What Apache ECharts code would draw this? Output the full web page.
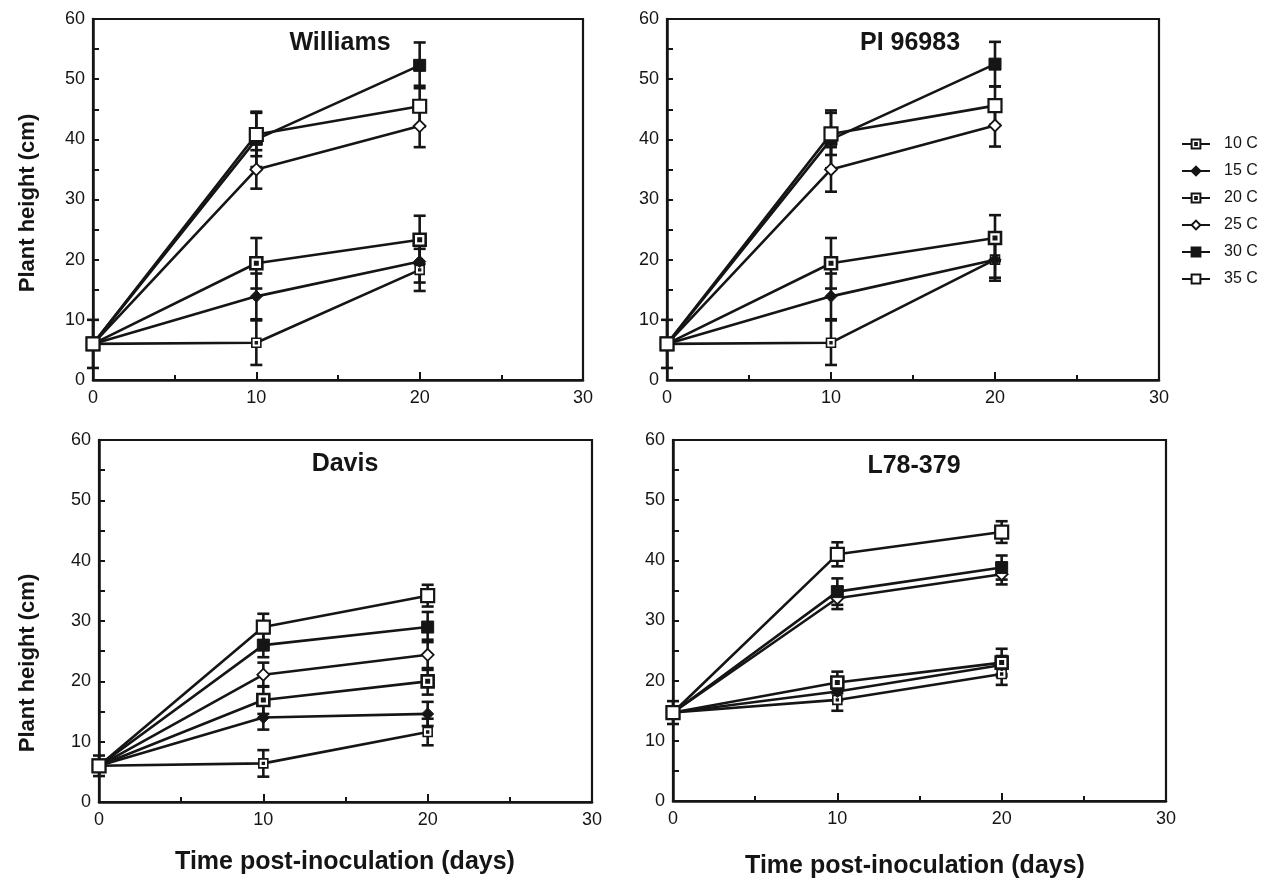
<!DOCTYPE html>
<html>
<head>
<meta charset="utf-8">
<script src="https://cdn.jsdelivr.net/npm/echarts@6/dist/echarts.min.js"></script>
<style>
  html, body { margin: 0; padding: 0; background: #fff; }
  #chart { width: 1269px; height: 880px; }
</style>
</head>
<body>
<div id="chart"></div>
<script>
  // days after inoculation
  const days = [0, 10, 20]
  const temps = ['10 C', '15 C', '20 C', '25 C', '30 C', '35 C']
  const xTicks = [0, 10, 20, 30]
  const yTicks = [0, 10, 20, 30, 40, 50, 60]

  // mean plant height (cm), one row per temperature
  const williamsMean = [[6, 6.2, 18.3], [6, 13.9, 19.7], [6, 19.4, 23.3], [6, 35, 42.2], [6, 40, 52.3], [6, 40.8, 45.5]]
  const williamsErr = [[4, 3.7, 3.5], [0, 3.8, 3.5], [0, 4.2, 4], [0, 3.2, 3.5], [0, 4.6, 3.8], [0, 3.6, 3.4]]
  const piMean = [[6, 6.2, 20], [6, 13.9, 20], [6, 19.4, 23.6], [6, 35, 42.3], [6, 40, 52.5], [6, 40.9, 45.6]]
  const piErr = [[4, 3.7, 3.5], [0, 3.8, 3], [0, 4.2, 3.8], [0, 3.7, 3.5], [0, 4.8, 3.7], [0, 3.5, 3.2]]
  const davisMean = [[6, 6.4, 11.6], [6, 14, 14.6], [6, 16.9, 20], [6, 21.1, 24.4], [6, 26, 29], [6, 29, 34.2]]
  const davisErr = [[1.7, 2.2, 2.2], [0, 2, 2], [0, 2.3, 2.2], [0, 2, 2.5], [0, 2, 2.5], [0, 2.2, 1.8]]
  const l78Mean = [[14.7, 16.8, 21.1], [14.7, 18.2, 22.6], [14.7, 19.7, 23], [14.7, 33.7, 37.7], [14.7, 34.8, 38.8], [14.7, 41, 44.7]]
  const l78Err = [[1.9, 1.8, 1.8], [0, 1.5, 1.5], [0, 1.8, 2.3], [0, 1.8, 1.7], [0, 2.2, 2], [0, 2, 1.8]]

  const panels = [
    { name: 'Williams', mean: williamsMean, err: williamsErr, grid: { left: 93, top: 19, width: 490, height: 361 }, tx: 340, ty: 43 },
    { name: 'PI 96983', mean: piMean, err: piErr, grid: { left: 667, top: 19, width: 492, height: 361 }, tx: 910, ty: 43 },
    { name: 'Davis', mean: davisMean, err: davisErr, grid: { left: 99, top: 440, width: 493, height: 362 }, tx: 345, ty: 464 },
    { name: 'L78-379', mean: l78Mean, err: l78Err, grid: { left: 673, top: 440, width: 493, height: 361 }, tx: 914, ty: 466 }
  ]

  const ink = '#151515'
  const font = '"Liberation Sans", Arial, Helvetica, sans-serif'
  const dotSquare = 'path://M0,0H10V10H0Z M4,4H6V6H4Z'

  const markers = [
    { symbol: dotSquare, size: 9, fill: '#fff', bw: 1.6 },
    { symbol: 'diamond', size: 12, fill: ink, bw: 1 },
    { symbol: dotSquare, size: 12, fill: '#fff', bw: 2.6 },
    { symbol: 'diamond', size: 12, fill: '#fff', bw: 1.8 },
    { symbol: 'rect', size: 12, fill: ink, bw: 1 },
    { symbol: 'rect', size: 13, fill: '#fff', bw: 2.2 }
  ]

  let grids = [], xAxes = [], yAxes = [], series = [], graphics = []

  panels.forEach(function (p, pi) {
    grids.push(Object.assign({ show: true, borderColor: ink, borderWidth: 2.2, backgroundColor: 'transparent' }, p.grid))
    xAxes.push({
      gridIndex: pi, type: 'value', min: xTicks[0], max: xTicks[xTicks.length - 1], interval: 10,
      axisLine: { lineStyle: { color: ink, width: 2.5 } },
      axisTick: { inside: true, length: 8, lineStyle: { color: ink, width: 2 } },
      minorTick: { show: true, splitNumber: 2, length: 5, lineStyle: { color: ink, width: 2 } },
      splitLine: { show: false },
      axisLabel: { color: ink, fontSize: 18, fontFamily: font, margin: 9 }
    })
    yAxes.push({
      gridIndex: pi, type: 'value', min: yTicks[0], max: yTicks[yTicks.length - 1], interval: 10,
      axisLine: { lineStyle: { color: ink, width: 2.5 } },
      axisTick: { inside: true, length: 6, lineStyle: { color: ink, width: 2 } },
      minorTick: { show: true, splitNumber: 2, length: 6, lineStyle: { color: ink, width: 2 } },
      splitLine: { show: false },
      axisLabel: { color: ink, fontSize: 18, fontFamily: font, margin: 8 }
    })

    // error bars
    let errData = []
    p.mean.forEach(function (row, ti) {
      row.forEach(function (v, di) {
        const e = p.err[ti][di]
        if (e > 0) errData.push([days[di], v - e, v + e])
      })
    })
    series.push({
      type: 'custom', xAxisIndex: pi, yAxisIndex: pi, z: 1, silent: true,
      data: errData,
      renderItem: function (params, api) {
        const lo = api.coord([api.value(0), api.value(1)])
        const hi = api.coord([api.value(0), api.value(2)])
        const st = { stroke: ink, lineWidth: 2.6 }
        return {
          type: 'group',
          children: [
            { type: 'line', shape: { x1: lo[0], y1: lo[1], x2: hi[0], y2: hi[1] }, style: st },
            { type: 'line', shape: { x1: lo[0] - 6, y1: lo[1], x2: lo[0] + 6, y2: lo[1] }, style: st },
            { type: 'line', shape: { x1: hi[0] - 6, y1: hi[1], x2: hi[0] + 6, y2: hi[1] }, style: st }
          ]
        }
      }
    })

    p.mean.forEach(function (row, ti) {
      const m = markers[ti]
      series.push({
        name: temps[ti], type: 'line', xAxisIndex: pi, yAxisIndex: pi, z: 3,
        data: row.map(function (v, di) { return [days[di], v] }),
        symbol: m.symbol, symbolSize: m.size, showSymbol: true,
        lineStyle: { color: ink, width: 2.6 },
        itemStyle: { color: m.fill, borderColor: ink, borderWidth: m.bw },
        emphasis: { disabled: true }
      })
    })

    graphics.push({
      type: 'text', x: p.tx, y: p.ty,
      style: { text: p.name, font: 'bold 25px ' + font, fill: ink, textAlign: 'center', textVerticalAlign: 'middle' }
    })
  })

  // axis titles
  ;[203, 663].forEach(function (cy) {
    graphics.push({
      type: 'text', x: 28, y: cy, rotation: Math.PI / 2,
      style: { text: 'Plant height (cm)', font: 'bold 22px ' + font, fill: ink, textAlign: 'center', textVerticalAlign: 'middle' }
    })
  })
  ;[[345, 862], [915, 866]].forEach(function (c) {
    graphics.push({
      type: 'text', x: c[0], y: c[1],
      style: { text: 'Time post-inoculation (days)', font: 'bold 25px ' + font, fill: ink, textAlign: 'center', textVerticalAlign: 'middle' }
    })
  })

  let myecharts = echarts.init(document.getElementById('chart'))
  myecharts.setOption({
    animation: false,
    backgroundColor: '#fff',
    grid: grids,
    xAxis: xAxes,
    yAxis: yAxes,
    legend: {
      orient: 'vertical', left: 1176, top: 131, itemWidth: 28, itemHeight: 11, itemGap: 11,
      data: temps, selectedMode: false,
      textStyle: { color: ink, fontSize: 16, fontFamily: font, padding: [0, 0, 0, 9] }
    },
    series: series,
    graphic: graphics
  })
</script>
</body>
</html>
